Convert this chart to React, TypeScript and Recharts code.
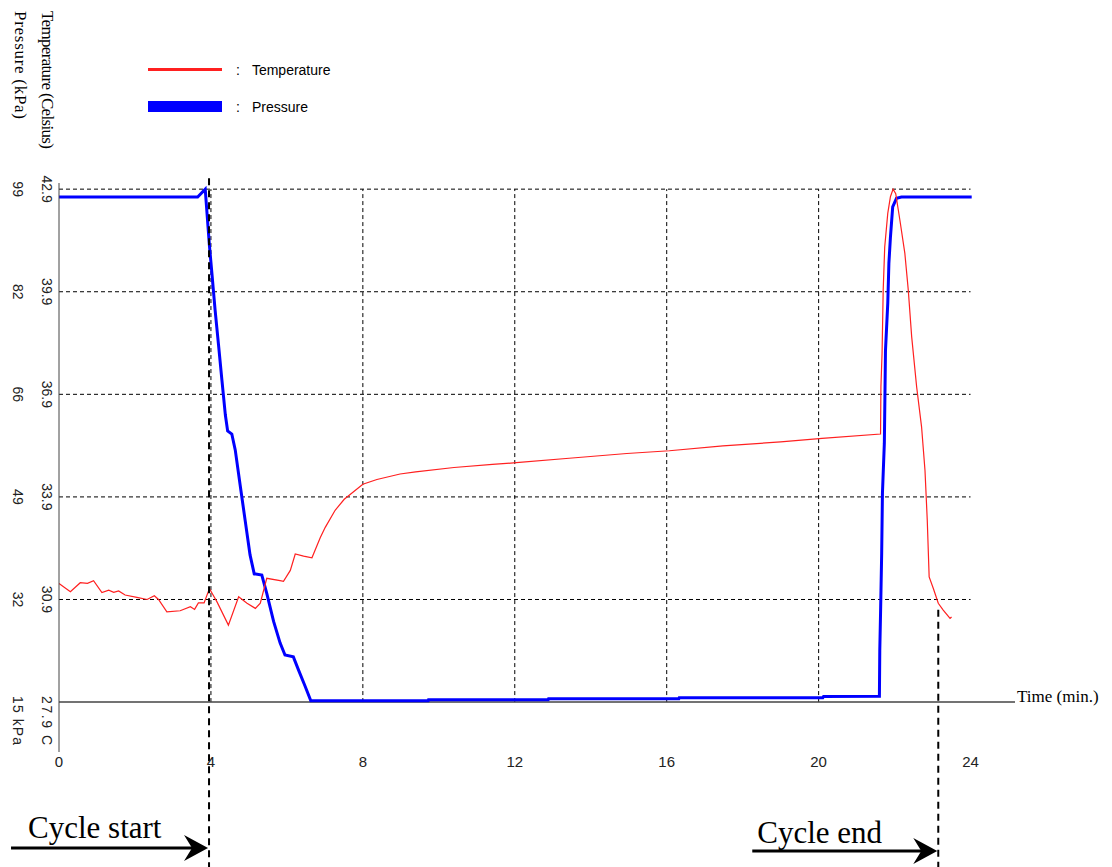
import React from "react";
import { LineChart, Line, XAxis, YAxis, ReferenceLine, Legend } from "recharts";

// axis ticks
const tempTicks = [27.9, 30.9, 33.9, 36.9, 39.9, 42.9];
const tempTickLabels = ["27.9 C", "30.9", "33.9", "36.9", "39.9", "42.9"];
const pressureTickLabels = ["15 kPa", "32", "49", "66", "82", "99"];
const timeTicks = [0, 4, 8, 12, 16, 20, 24];
const gridTimes = [4, 8, 12, 16, 20];
const gridTemps = [30.9, 33.9, 36.9, 39.9, 42.9];

// temperature (Celsius) vs time (min.)
const tempTimes = [
  0, 0.3, 0.56, 0.75, 0.91, 1.13, 1.31, 1.44, 1.57, 1.74,
  2.05, 2.32, 2.51, 2.62, 2.84, 3.19, 3.46, 3.57, 3.67, 3.82,
  3.96, 4.16, 4.46, 4.73, 4.95, 5.17, 5.3, 5.47, 5.82, 5.91,
  6.09, 6.22, 6.44, 6.66, 6.88, 7.01, 7.27, 7.51, 8.0, 8.37,
  8.98, 9.39, 10.4, 11.41, 12.04, 13.43, 14.95, 16.07, 17.48, 19.0,
  20.09, 21.63, 21.64, 21.67, 21.7, 21.74, 21.82, 21.89, 21.96, 22.03,
  22.14, 22.27, 22.36, 22.45, 22.58, 22.71, 22.8, 22.86, 22.91, 23.02,
  23.15, 23.28, 23.46, 23.5,
];
const tempValues = [
  31.37, 31.13, 31.39, 31.37, 31.45, 31.1, 31.17, 31.11, 31.15, 31.03,
  30.96, 30.9, 31.01, 30.9, 30.54, 30.57, 30.69, 30.61, 30.8, 30.8,
  31.22, 30.83, 30.15, 30.98, 30.79, 30.64, 30.79, 31.52, 31.45, 31.43,
  31.75, 32.23, 32.17, 32.12, 32.71, 33.01, 33.51, 33.83, 34.27, 34.41,
  34.57, 34.63, 34.76, 34.85, 34.9, 35.03, 35.17, 35.25, 35.39, 35.51,
  35.61, 35.74, 37.12, 38.1, 39.95, 41.21, 42.19, 42.68, 42.9, 42.77,
  41.99, 41.02, 39.95, 38.58, 37.12, 35.95, 34.68, 33.22, 31.56, 31.22,
  30.79, 30.59, 30.35, 30.39,
];

// pressure (kPa) vs time (min.)
const pressureTimes = [
  0, 3.65, 3.85, 3.96, 4.03, 4.11, 4.2, 4.29, 4.38, 4.44,
  4.55, 4.64, 4.77, 4.9, 5.03, 5.14, 5.34, 5.47, 5.65, 5.82,
  5.95, 6.17, 6.31, 6.48, 6.63, 9.72, 9.73, 12.88, 12.89, 16.32,
  16.33, 20.11, 20.13, 21.6, 21.61, 21.63, 21.66, 21.68, 21.73, 21.76,
  21.82, 21.85, 21.89, 21.95, 22.05, 22.18, 24.03,
];
const pressureValues = [
  97.7, 97.7, 99.0, 89.8, 84.9, 79.2, 73.5, 67.7, 62.0, 59.4,
  58.9, 56.3, 50.5, 44.8, 39.1, 36.0, 35.8, 32.8, 28.2, 24.7,
  22.7, 22.4, 20.2, 17.6, 15.2, 15.2, 15.4, 15.4, 15.55, 15.55,
  15.7, 15.7, 15.9, 15.95, 23.5, 29.5, 39.4, 49.2, 57.4, 72.6,
  80.3, 86.9, 91.1, 96.1, 97.5, 97.7, 97.7,
];

// cycle markers
const cycleTimes = [3.95, 23.15];
const cycleTops = [43.22, 30.6];
const cycleLabels = ["Cycle start", "Cycle end"];

const seriesOrder = ["Temperature", "Pressure"];

const tempData = tempTimes.map((t, i) => ({ t, temp: tempValues[i] }));
const pressureData = pressureTimes.map((t, i) => ({ t, pressure: pressureValues[i] }));

// both y scales share the plot: 15 kPa <-> 27.9 C, 99 kPa <-> 42.9 C
const tDomain = [26.44, 43.08];
const toP = (c: number) => 15 + ((c - 27.9) * (99 - 15)) / (42.9 - 27.9);
const pDomain = [toP(tDomain[0]), toP(tDomain[1])];
const bottomTemp = 23.08;

const SANS = "'Liberation Sans', Arial, sans-serif";
const SERIF = "'Liberation Serif', 'Times New Roman', serif";

function DualTick(props: any) {
  const { x, y, payload } = props;
  const i = tempTicks.indexOf(payload.value);
  const last = i === 0;
  const tx = x - 17;
  const px = x - 46;
  const ty = last ? y - 6 : y;
  const common = {
    fontFamily: SANS,
    fontSize: 14,
    fill: "#222",
    textAnchor: last ? "start" : "middle",
  } as any;
  return (
    <g>
      <text
        x={tx}
        y={ty}
        transform={`rotate(90 ${tx} ${ty})`}
        {...common}
        {...(last ? { textLength: 49 } : {})}
      >
        {tempTickLabels[i]}
      </text>
      <text
        x={px}
        y={ty}
        transform={`rotate(90 ${px} ${ty})`}
        {...common}
        {...(last ? { textLength: 49 } : {})}
      >
        {pressureTickLabels[i]}
      </text>
    </g>
  );
}

function TimeTick(props: any) {
  const { x, y, payload } = props;
  return (
    <text x={x} y={y + 15} textAnchor="middle" fontFamily={SANS} fontSize={15} fill="#222">
      {payload.value}
    </text>
  );
}

function AxisTitles(props: any) {
  const vb = props.viewBox || { x: 0 };
  const tx = vb.x + 42;
  const px = vb.x + 15;
  return (
    <g fontFamily={SERIF} fontSize={17} fill="#000">
      <text x={tx} y={11} transform={`rotate(90 ${tx} 11)`} textLength={138}>
        Temperature (Celsius)
      </text>
      <text x={px} y={11} transform={`rotate(90 ${px} 11)`} textLength={108}>
        Pressure (kPa)
      </text>
    </g>
  );
}

const arrowStyle = [
  { len: 197, dy: 19, textDx: 17, textDy: 10 },
  { len: 185, dy: 16, textDx: 5, textDy: 8 },
];

function CycleMark(props: any) {
  const { x1, y1, x2, y2, idx } = props;
  const s = arrowStyle[idx];
  const tip = x1 - 1;
  const ay = y2 - s.dy;
  return (
    <g>
      <line x1={x1} y1={y1} x2={x2} y2={y2} stroke="#000" strokeWidth={2} strokeDasharray="7 5" />
      <line x1={tip - s.len} y1={ay} x2={tip - 12} y2={ay} stroke="#000" strokeWidth={3} />
      <path
        d={`M${tip},${ay} L${tip - 24},${ay - 13} L${tip - 16},${ay} L${tip - 24},${ay + 13} Z`}
        fill="#000"
      />
      <text
        x={tip - s.len + s.textDx}
        y={ay - s.textDy}
        fontFamily={SERIF}
        fontSize={31}
        fill="#000"
      >
        {cycleLabels[idx]}
      </text>
    </g>
  );
}

function LegendBox(props: any) {
  const items = [...(props.payload || [])].sort(
    (a: any, b: any) => seriesOrder.indexOf(a.value) - seriesOrder.indexOf(b.value)
  );
  return (
    <div style={{ fontFamily: SANS, fontSize: 14, color: "#000" }}>
      {items.map((it: any) => (
        <div key={it.value} style={{ display: "flex", alignItems: "center", height: 37 }}>
          <div
            style={{
              width: 74,
              height: it.value === "Pressure" ? 11 : 3,
              background: it.color,
            }}
          />
          <span style={{ marginLeft: 14 }}>:</span>
          <span style={{ marginLeft: 12 }}>{it.value}</span>
        </div>
      ))}
    </div>
  );
}

export default function App() {
  return (
    <div style={{ position: "absolute", left: 0, top: 0, width: 1112, height: 867, background: "#fff" }}>
      <LineChart width={1112} height={867} margin={{ top: 183, right: 97, bottom: 0, left: 0 }}>
        <XAxis
          dataKey="t"
          type="number"
          domain={[0, 25.17]}
          allowDataOverflow
          ticks={timeTicks}
          interval={0}
          axisLine={false}
          tickLine={false}
          tickSize={0}
          tickMargin={0}
          height={115}
          tick={<TimeTick />}
        />
        <YAxis
          yAxisId="t"
          type="number"
          domain={tDomain}
          allowDataOverflow
          ticks={tempTicks}
          interval={0}
          width={59}
          tickLine={false}
          tickSize={0}
          tickMargin={0}
          axisLine={{ stroke: "#444", strokeWidth: 1 }}
          tick={<DualTick />}
          label={<AxisTitles />}
        />
        <YAxis
          yAxisId="p"
          orientation="right"
          type="number"
          domain={pDomain}
          allowDataOverflow
          hide
        />

        {gridTemps.map((c) => (
          <ReferenceLine
            key={"h" + c}
            yAxisId="t"
            segment={[{ x: 0, y: c }, { x: 24, y: c }]}
            stroke="#000"
            strokeDasharray="4 3"
            strokeWidth={1}
          />
        ))}
        {gridTimes.map((t) => (
          <ReferenceLine
            key={"v" + t}
            yAxisId="t"
            segment={[{ x: t, y: 27.9 }, { x: t, y: 42.9 }]}
            stroke="#000"
            strokeDasharray="4 3"
            strokeWidth={1}
          />
        ))}
        <ReferenceLine
          yAxisId="t"
          y={27.9}
          stroke="#444"
          strokeWidth={1.5}
          label={{
            value: "Time (min.)",
            position: "right",
            offset: 2,
            fill: "#000",
            fontFamily: SERIF,
            fontSize: 17,
            dy: -6,
          }}
        />

        <Line
          yAxisId="p"
          data={pressureData}
          dataKey="pressure"
          name="Pressure"
          type="linear"
          stroke="#0000ff"
          strokeWidth={3}
          dot={false}
          isAnimationActive={false}
        />
        <Line
          yAxisId="t"
          data={tempData}
          dataKey="temp"
          name="Temperature"
          type="linear"
          stroke="#ff2020"
          strokeWidth={1.2}
          dot={false}
          isAnimationActive={false}
        />

        {cycleTimes.map((t, i) => (
          <ReferenceLine
            key={"c" + i}
            yAxisId="t"
            ifOverflow="visible"
            segment={[{ x: t, y: cycleTops[i] }, { x: t, y: bottomTemp }]}
            shape={(p: any) => <CycleMark {...p} idx={i} />}
          />
        ))}

        <Legend
          layout="horizontal"
          verticalAlign="middle"
          align="center"
          content={<LegendBox />}
          wrapperStyle={{ left: 148, top: 51, width: 260, height: 80 }}
        />
      </LineChart>
    </div>
  );
}
